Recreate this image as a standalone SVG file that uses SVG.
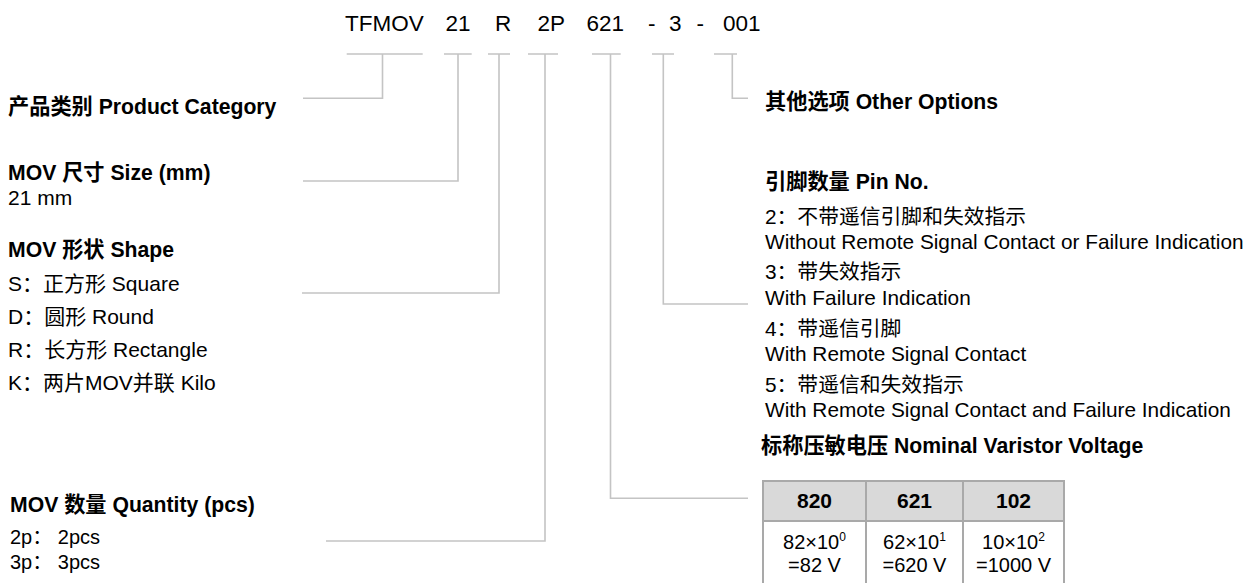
<svg xmlns="http://www.w3.org/2000/svg" width="1258" height="583" viewBox="0 0 1258 583">
<style>
text{font-family:"Liberation Sans","Noto Sans CJK SC",Arial,sans-serif;fill:#000}
.code{font-size:22.5px}
.h{font-size:21.2px;font-weight:bold}
.t{font-size:21px}
.q{font-size:20px}
.n{font-size:20.8px}
.th{font-size:21px;font-weight:bold;text-anchor:middle}
.td{font-size:20px;text-anchor:middle}
.ln{fill:none;stroke:#c4c4c4;stroke-width:1.6}
.tb{stroke:#a9a9a9;stroke-width:2}
</style>
<rect width="1258" height="583" fill="#fff"/>
<g id="code">
<text class="code" x="345" y="31">TFMOV</text>
<text class="code" x="445.5" y="31">21</text>
<text class="code" x="495" y="31">R</text>
<text class="code" x="537.5" y="31">2P</text>
<text class="code" x="586.5" y="31">621</text>
<text class="code" x="648" y="31">-</text>
<text class="code" x="669" y="31">3</text>
<text class="code" x="696.5" y="31">-</text>
<text class="code" x="723" y="31">001</text>
</g>
<g id="connectors">
<path class="ln" d="M346.7,54H422.7M382.5,54V98.3H303"/>
<path class="ln" d="M444,54H471.7M458,54V181H303"/>
<path class="ln" d="M488,54H510M499,54V293H302"/>
<path class="ln" d="M528,54H558M545,54V541H326"/>
<path class="ln" d="M592,54H620.7M610.5,54V498.3H748"/>
<path class="ln" d="M652,54H674M663.3,54V304H748"/>
<path class="ln" d="M714,54H737M732.3,54V98.3H748"/>
</g>
<g id="category">
<text class="h" x="8" y="114">产品类别 Product Category</text>
</g>
<g id="size">
<text class="h" x="8" y="180">MOV 尺寸 Size (mm)</text>
<text class="t" x="8" y="205">21 mm</text>
</g>
<g id="shape">
<text class="h" x="8" y="257">MOV 形状 Shape</text>
<text class="t" x="8" y="291">S：正方形 Square</text>
<text class="t" x="8" y="323.5">D：圆形 Round</text>
<text class="t" x="8" y="356.5">R：长方形 Rectangle</text>
<text class="t" x="8" y="389.5">K：两片MOV并联 Kilo</text>
</g>
<g id="quantity">
<text class="h" x="10" y="512">MOV 数量 Quantity (pcs)</text>
<text class="q" x="10" y="544">2p： 2pcs</text>
<text class="q" x="10" y="569">3p： 3pcs</text>
</g>
<g id="options">
<text class="h" x="765" y="109">其他选项 Other Options</text>
</g>
<g id="pins">
<text class="h" x="765" y="189">引脚数量 Pin No.</text>
<text class="n" x="765" y="224">2：不带遥信引脚和失效指示</text>
<text class="n" x="765" y="249">Without Remote Signal Contact or Failure Indication</text>
<text class="n" x="765" y="279">3：带失效指示</text>
<text class="n" x="765" y="305">With Failure Indication</text>
<text class="n" x="765" y="336">4：带遥信引脚</text>
<text class="n" x="765" y="361">With Remote Signal Contact</text>
<text class="n" x="765" y="392">5：带遥信和失效指示</text>
<text class="n" x="765" y="417">With Remote Signal Contact and Failure Indication</text>
</g>
<g id="voltage">
<text class="h" x="761" y="453">标称压敏电压 Nominal Varistor Voltage</text>
<rect x="763" y="481" width="301" height="40" fill="#d9d9d9"/>
<g class="tb">
<line x1="763" y1="481" x2="1064" y2="481"/>
<line x1="763" y1="521" x2="1064" y2="521"/>
<line x1="763" y1="480" x2="763" y2="583"/>
<line x1="866" y1="480" x2="866" y2="583"/>
<line x1="963" y1="480" x2="963" y2="583"/>
<line x1="1064" y1="480" x2="1064" y2="583"/>
</g>
<text class="th" x="814.5" y="508">820</text>
<text class="th" x="914.5" y="508">621</text>
<text class="th" x="1013.5" y="508">102</text>
<text class="td" x="814.5" y="549">82×10<tspan dy="-8" font-size="12">0</tspan></text>
<text class="td" x="814.5" y="572">=82 V</text>
<text class="td" x="914.5" y="549">62×10<tspan dy="-8" font-size="12">1</tspan></text>
<text class="td" x="914.5" y="572">=620 V</text>
<text class="td" x="1013.5" y="549">10×10<tspan dy="-8" font-size="12">2</tspan></text>
<text class="td" x="1013.5" y="572">=1000 V</text>
</g>
</svg>
